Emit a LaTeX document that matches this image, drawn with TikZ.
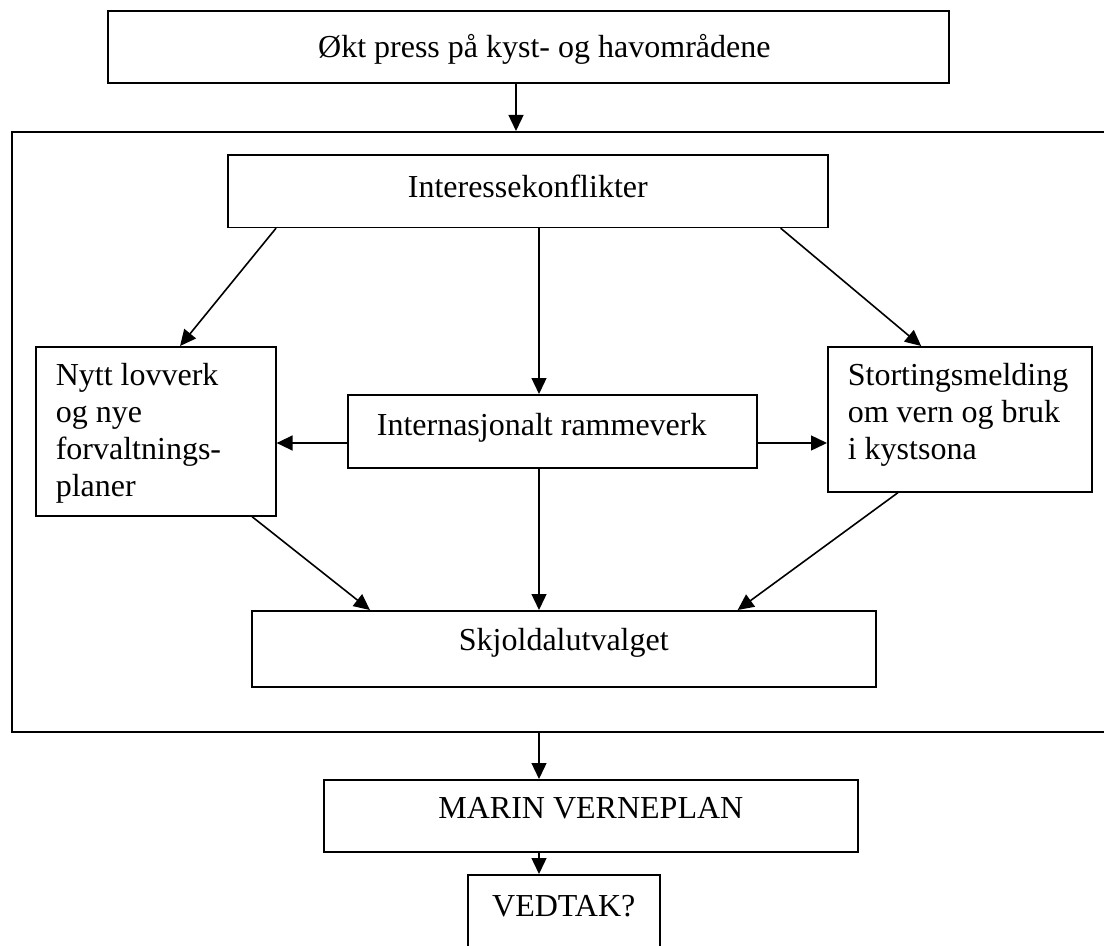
\documentclass[tikz,border=0pt]{standalone}
\usepackage{fontspec}
\setmainfont{Liberation Serif}
\usetikzlibrary{arrows.meta}
\tikzstyle{box}=[draw, rectangle, anchor=north west, inner sep=0pt, font=\fontsize{12pt}{13.8pt}\selectfont]

\begin{document}
\begin{tikzpicture}[x=0.375pt, y=-0.375pt, line width=0.6pt, >={Triangle[length=6pt, width=5.6pt]}]
\useasboundingbox (0, 0) rectangle (1104, 945);
\node[box, minimum width=315.4pt, text height=17.6pt, text depth=9.4pt] at (107, 10) (press) {\quad Økt press på kyst- og havområdene};
\node[box, minimum width=412.1pt, minimum height=225pt] at (11, 131) (group) {};
\node[box, minimum width=225pt, text height=16.1pt, text depth=11.1pt] at (227, 154) (conflict) {Interessekonflikter};
\node[box, inner xsep=7.5pt, text width=75pt, align=flush left, text height=14.6pt, text depth=48.8pt] at (35, 346) (law) {Nytt lovverk\\og nye\\forvaltnings-\\planer};
\node[box, inner xsep=10.9pt, text width=131.6pt, align=flush left, text height=15.4pt, text depth=12pt] at (347, 394) (intl) {Internasjonalt rammeverk};
\node[box, inner xsep=7.5pt, text width=84pt, align=flush left, text height=14.6pt, text depth=39.8pt] at (827, 346) (report) {Stortingsmelding\\om vern og bruk\\i kystsona};
\node[box, minimum width=234pt, text height=15pt, text depth=13.5pt] at (251, 610) (skjold) {Skjoldalutvalget};
\node[box, minimum width=200.3pt, text height=14.6pt, text depth=12.4pt] at (323, 779) (plan) {MARIN VERNEPLAN};
\node[box, minimum width=72pt, text height=15.8pt, text depth=16.5pt] at (467, 874) (decision) {VEDTAK?};

\coordinate (topaxis) at (516, 0);
\coordinate (axis) at (539, 0);
\coordinate (level) at (0, 443);
\draw[->] (press.south -| topaxis) -- (group.north -| topaxis);
\draw[->] ([xshift=18.4pt]conflict.south west) -- ([xshift=54.4pt]law.north west);
\draw[->] (conflict.south -| axis) -- (intl.north -| axis);
\draw[->] ([xshift=-18pt]conflict.south east) -- ([xshift=35.3pt]report.north west);
\draw[->] (intl.west |- level) -- (law.east |- level);
\draw[->] (intl.east |- level) -- (report.west |- level);
\draw[->] ([xshift=81.4pt]law.south west) -- ([xshift=44.6pt]skjold.north west);
\draw[->] (intl.south -| axis) -- (skjold.north -| axis);
\draw[->] ([xshift=26.6pt]report.south west) -- ([xshift=-52.1pt]skjold.north east);
\draw[->] (group.south -| axis) -- (plan.north -| axis);
\draw[->] (plan.south -| axis) -- (decision.north -| axis);
\end{tikzpicture}
\end{document}
